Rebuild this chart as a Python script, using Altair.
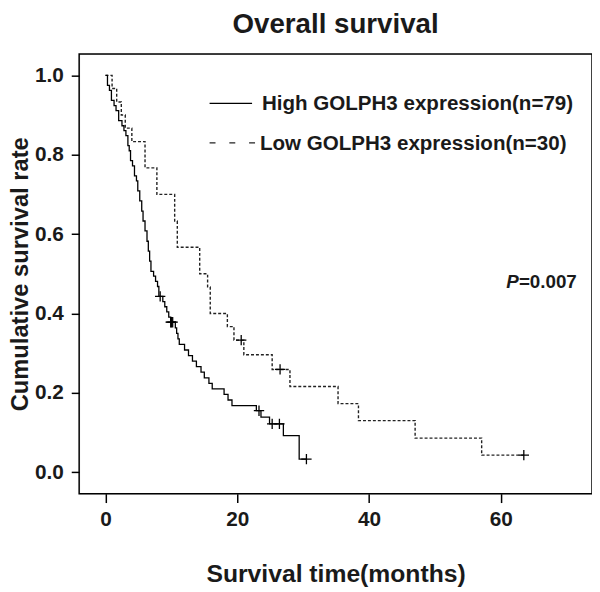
import altair as alt
import pandas as pd

# ---- data ----
high_time = [0.0, 0.3, 0.6, 0.9, 1.3, 1.6, 2.0, 2.5, 2.8, 3.1, 3.4, 3.6, 3.8, 4.1, 4.4, 4.7, 4.9,
             5.2, 5.5, 5.7, 6.0, 6.3, 6.5, 6.7, 6.9, 7.3, 7.6, 7.9, 8.1, 8.7, 9.0, 9.3, 9.6, 9.9,
             10.6, 10.8, 11.0, 11.2, 12.0, 12.6, 13.2, 13.8, 14.5, 15.0, 15.7, 16.2, 18.0, 18.6,
             19.2, 22.9, 23.6, 24.9, 27.0, 29.4, 30.5]
high_surv = [1.0, 0.975, 0.962, 0.937, 0.924, 0.911, 0.886, 0.873, 0.861, 0.848, 0.823, 0.810,
             0.785, 0.772, 0.747, 0.734, 0.709, 0.684, 0.658, 0.633, 0.608, 0.582, 0.557, 0.532,
             0.506, 0.494, 0.481, 0.468, 0.443, 0.430, 0.417, 0.404, 0.391, 0.378, 0.364, 0.350,
             0.336, 0.322, 0.308, 0.294, 0.280, 0.266, 0.252, 0.238, 0.224, 0.210, 0.196, 0.182,
             0.168, 0.155, 0.139, 0.122, 0.092, 0.033, 0.033]
high_cens_time = [8.3, 9.9, 10.0, 10.2, 23.3, 25.3, 26.4, 30.5]
high_cens_surv = [0.443, 0.378, 0.378, 0.378, 0.155, 0.122, 0.122, 0.033]

low_time = [0.0, 1.0, 1.7, 2.4, 3.0, 4.0, 6.0, 7.8, 10.5, 10.9, 14.3, 15.5, 15.9, 18.5, 19.5,
            21.0, 25.3, 28.0, 35.3, 38.4, 47.0, 57.1, 63.5]
low_surv = [1.0, 0.967, 0.933, 0.900, 0.867, 0.833, 0.767, 0.700, 0.633, 0.567, 0.500, 0.467,
            0.400, 0.367, 0.333, 0.296, 0.259, 0.216, 0.173, 0.130, 0.086, 0.043, 0.043]
low_cens_time = [20.6, 26.5, 63.5]
low_cens_surv = [0.333, 0.259, 0.043]

x_ticks = [0, 20, 40, 60]
y_ticks = [0.0, 0.2, 0.4, 0.6, 0.8, 1.0]
x_range = [-4, 73.85]
y_range = [-0.054, 1.054]
legend_labels = ["High GOLPH3 expression(n=79)", "Low GOLPH3 expression(n=30)"]
p_label = ["P", "=0.007"]
chart_title = "Overall survival"
x_title = "Survival time(months)"
y_title = "Cumulative survival rate"

FONT = "Liberation Sans"
W, H = 519, 445

high_df = pd.DataFrame({"t": high_time, "s": high_surv})
low_df = pd.DataFrame({"t": low_time, "s": low_surv})
high_c = pd.DataFrame({"t": high_cens_time, "s": high_cens_surv})
low_c = pd.DataFrame({"t": low_cens_time, "s": low_cens_surv})
box_df = pd.DataFrame({"x0": [x_range[0]], "x1": [x_range[1]],
                       "y0": [y_range[0]], "y1": [y_range[1]]})

xs = alt.Scale(domain=x_range, nice=False, zero=False)
ys = alt.Scale(domain=y_range, nice=False, zero=False)

x_axis = alt.Axis(values=x_ticks, format="d", title=x_title, domain=False, grid=False,
                  tickSize=9, tickWidth=1.5, tickColor="black",
                  labelFont=FONT, labelFontSize=21, labelFontWeight="bold", labelColor="#1a1a1a",
                  labelPadding=6, titleFont=FONT, titleFontSize=25, titleFontWeight="bold",
                  titleColor="#1a1a1a", titlePadding=33)
y_axis = alt.Axis(values=y_ticks, format=".1f", title=y_title, domain=False, grid=False,
                  tickSize=8, tickWidth=1.5, tickColor="black",
                  labelFont=FONT, labelFontSize=21, labelFontWeight="bold", labelColor="#1a1a1a",
                  labelPadding=8, titleFont=FONT, titleFontSize=24, titleFontWeight="bold",
                  titleColor="#1a1a1a", titlePadding=2)

# plot frame drawn from the scale's own domain
box = alt.Chart(box_df).mark_rect(fill="white", fillOpacity=0, stroke="black",
                                  strokeWidth=1.5).encode(
    x=alt.X("x0:Q", scale=xs, axis=x_axis),
    x2="x1:Q",
    y=alt.Y("y0:Q", scale=ys, axis=y_axis),
    y2="y1:Q",
)

high_line = alt.Chart(high_df).mark_line(interpolate="step-after", color="black",
                                         strokeWidth=1.3).encode(
    x=alt.X("t:Q", scale=xs),
    y=alt.Y("s:Q", scale=ys),
)
low_line = alt.Chart(low_df).mark_line(interpolate="step-after", color="#222222",
                                       strokeWidth=1.4, strokeDash=[3, 2]).encode(
    x=alt.X("t:Q", scale=xs),
    y=alt.Y("s:Q", scale=ys),
)
plus = "M-1,0L1,0M0,-1L0,1"
high_marks = alt.Chart(high_c).mark_point(shape=plus, filled=False, size=110, color="black",
                                          strokeWidth=1.3, opacity=1).encode(
    x=alt.X("t:Q", scale=xs), y=alt.Y("s:Q", scale=ys))
low_marks = alt.Chart(low_c).mark_point(shape=plus, filled=False, size=110, color="black",
                                        strokeWidth=1.3, opacity=1).encode(
    x=alt.X("t:Q", scale=xs), y=alt.Y("s:Q", scale=ys))

leg_df1 = pd.DataFrame({"label": [legend_labels[0]]})
leg_df2 = pd.DataFrame({"label": [legend_labels[1]]})
leg_rule1 = alt.Chart(leg_df1).mark_rule(color="black", strokeWidth=1.3).encode(
    x=alt.value(132), x2=alt.value(175), y=alt.value(50))
leg_rule2 = alt.Chart(leg_df2).mark_rule(color="#222222", strokeWidth=1.3,
                                         strokeDash=[6, 14]).encode(
    x=alt.value(132), x2=alt.value(178), y=alt.value(90))
leg_text1 = alt.Chart(leg_df1).mark_text(align="left", baseline="middle", font=FONT,
                                         fontSize=20.8, fontWeight="bold", color="#1a1a1a").encode(
    x=alt.value(185), y=alt.value(51), text="label:N")
leg_text2 = alt.Chart(leg_df2).mark_text(align="left", baseline="middle", font=FONT,
                                         fontSize=20.8, fontWeight="bold", color="#1a1a1a").encode(
    x=alt.value(183), y=alt.value(91), text="label:N")

p_df1 = pd.DataFrame({"label": [p_label[0]]})
p_df2 = pd.DataFrame({"label": [p_label[1]]})
p_text1 = alt.Chart(p_df1).mark_text(align="right", baseline="middle", font=FONT, fontSize=19,
                                     fontWeight="bold", fontStyle="italic",
                                     color="#1a1a1a").encode(
    x=alt.value(445), y=alt.value(231), text="label:N")
p_text2 = alt.Chart(p_df2).mark_text(align="left", baseline="middle", font=FONT, fontSize=19,
                                     fontWeight="bold", color="#1a1a1a").encode(
    x=alt.value(445), y=alt.value(231), text="label:N")

chart = alt.layer(
    box, low_line, high_line, high_marks, low_marks,
    leg_rule1, leg_rule2, leg_text1, leg_text2, p_text1, p_text2,
).properties(
    width=W, height=H,
    title=alt.TitleParams(chart_title, font=FONT, fontSize=28, fontWeight="bold",
                          color="#1a1a1a", anchor="middle", offset=14),
    autosize=alt.AutoSizeParams(type="none"),
    padding={"left": 72, "top": 43, "right": 0, "bottom": 93},
    background="white",
)

chart.save("out.html", embed_options={"renderer": "svg", "actions": False})
